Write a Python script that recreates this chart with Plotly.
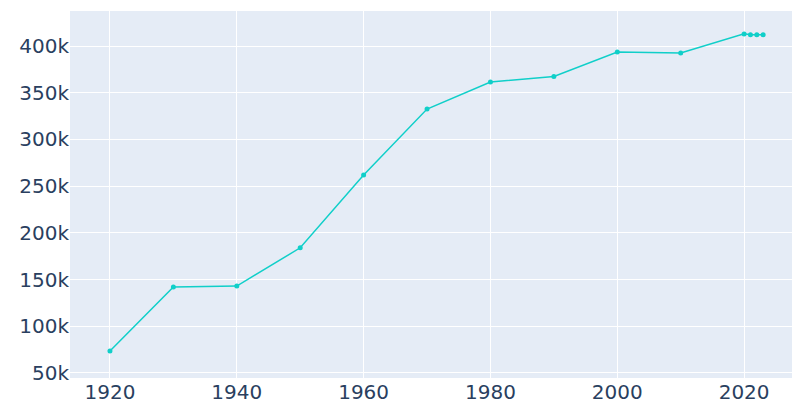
import plotly.graph_objects as go

years = [1920, 1930, 1940, 1950, 1960, 1970, 1980, 1990, 2000, 2010, 2020, 2021, 2022, 2023]
population = [73500, 142000, 143000, 184000, 262000, 332500, 361500, 367500, 393500, 392500, 413000, 412000, 412000, 412000]

fig = go.Figure(go.Scatter(x=years, y=population, mode="lines+markers",
                           line=dict(color="#10cfc9", width=1.5), marker=dict(size=5, color="#10cfc9")))
fig.update_layout(
    width=800, height=400, margin=dict(l=62, r=3, t=3, b=30),
    plot_bgcolor="#e5ecf6", paper_bgcolor="white",
    font=dict(family="DejaVu Sans", size=20, color="#2a3f5f"),
    showlegend=False,
)
fig.update_xaxes(range=[1913.7, 2029.6], tickvals=[1920, 1940, 1960, 1980, 2000, 2020], gridcolor="white",
                 zeroline=False, automargin=False)
fig.update_yaxes(range=[44600, 437500], tickvals=[50000, 100000, 150000, 200000, 250000, 300000, 350000, 400000],
                 ticktext=["50k", "100k", "150k", "200k", "250k", "300k", "350k", "400k"], gridcolor="white",
                 zeroline=False, automargin=False)
fig.write_html("out.html")
